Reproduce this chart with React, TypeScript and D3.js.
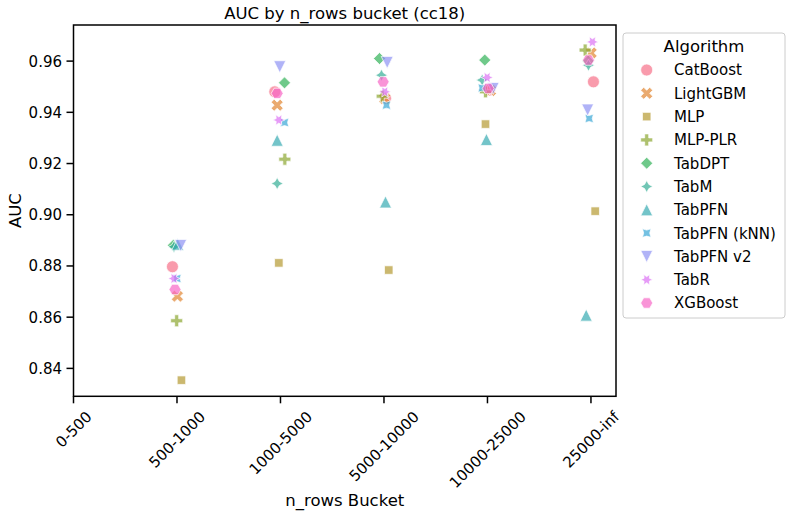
import React from 'react';
import * as d3 from 'd3';

// ---------- data ----------
const buckets = ['0-500', '500-1000', '1000-5000', '5000-10000', '10000-25000', '25000-inf'];
const algorithms = ['CatBoost', 'LightGBM', 'MLP', 'MLP-PLR', 'TabDPT', 'TabM', 'TabPFN', 'TabPFN (kNN)', 'TabPFN v2', 'TabR', 'XGBoost'];
// buckets with data (0-500 has none)
const dataBuckets = ['500-1000', '1000-5000', '5000-10000', '10000-25000', '25000-inf'];

const catboostAUC = [0.8797, 0.9480, 0.9455, 0.9487, 0.9519];
const lightgbmAUC = [0.8682, 0.9428, 0.9454, 0.9485, 0.9632];
const mlpAUC = [0.8354, 0.8812, 0.8784, 0.9354, 0.9014];
const mlpPlrAUC = [0.8586, 0.9217, 0.9463, 0.9480, 0.9643];
const tabdptAUC = [0.8881, 0.9515, 0.9610, 0.9604, 0.9600];
const tabmAUC = [0.8875, 0.9122, 0.9545, 0.9526, 0.9584];
const tabpfnAUC = [0.8885, 0.9291, 0.9050, 0.9294, 0.8608];
const tabpfnKnnAUC = [0.8751, 0.9360, 0.9428, 0.9495, 0.9376];
const tabpfnV2AUC = [0.8880, 0.9578, 0.9595, 0.9493, 0.9409];
const tabrAUC = [0.8751, 0.9370, 0.9480, 0.9536, 0.9675];
const xgboostAUC = [0.8708, 0.9474, 0.9519, 0.9493, 0.9604];

// horizontal jitter (in bucket units) as drawn in the source
const catboostJit = [-0.044, -0.055, 0.015, 0.019, 0.024];
const lightgbmJit = [0.004, -0.032, 0.008, 0.029, 0.002];
const mlpJit = [0.043, -0.016, 0.046, -0.019, 0.041];
const mlpPlrJit = [-0.003, 0.042, -0.017, -0.019, -0.056];
const tabdptJit = [-0.035, 0.039, -0.043, -0.026, -0.027];
const tabmJit = [-0.029, -0.032, -0.024, -0.051, -0.024];
const tabpfnJit = [0.007, -0.032, 0.015, -0.010, -0.046];
const tabpfnKnnJit = [0.000, 0.039, 0.024, -0.051, -0.017];
const tabpfnV2Jit = [0.036, -0.007, 0.031, 0.055, -0.032];
const tabrJit = [-0.029, -0.016, 0.008, -0.003, 0.014];
const xgboostJit = [-0.019, -0.032, -0.008, 0.007, -0.024];

const seriesValues = [catboostAUC, lightgbmAUC, mlpAUC, mlpPlrAUC, tabdptAUC, tabmAUC, tabpfnAUC, tabpfnKnnAUC, tabpfnV2AUC, tabrAUC, xgboostAUC];
const seriesJitter = [catboostJit, lightgbmJit, mlpJit, mlpPlrJit, tabdptJit, tabmJit, tabpfnJit, tabpfnKnnJit, tabpfnV2Jit, tabrJit, xgboostJit];

const yTicks = [0.84, 0.86, 0.88, 0.90, 0.92, 0.94, 0.96];

// ---------- husl palette (seaborn) ----------
const M = [[3.2406, -1.5372, -0.4986], [-0.9689, 1.8758, 0.0415], [0.0557, -0.2040, 1.0570]];
function maxChroma(L: number, H: number) {
  const hrad = (H / 360) * Math.PI * 2;
  const sinH = Math.sin(hrad), cosH = Math.cos(hrad);
  const sub1 = Math.pow(L + 16, 3) / 1560896;
  const sub2 = sub1 > 0.008856 ? sub1 : L / 903.3;
  let result = Infinity;
  for (const [m1, m2, m3] of M) {
    const top = (0.99915 * m1 + 1.05122 * m2 + 1.1446 * m3) * sub2;
    const rb = 0.8633 * m3 - 0.17266 * m2;
    const lb = 0.12949 * m3 - 0.38848 * m1;
    const bottom = (rb * sinH + lb * cosH) * sub2;
    for (const t of [0, 1]) {
      const C = (L * (top - 1.05122 * t)) / (bottom + 0.17266 * sinH * t);
      if (C > 0 && C < result) result = C;
    }
  }
  return result;
}
function huslToHex(H: number, S: number, L: number) {
  const C = (maxChroma(L, H) / 100) * S;
  const hrad = (H / 360) * Math.PI * 2;
  const U = Math.cos(hrad) * C, V = Math.sin(hrad) * C;
  const t = (L + 16) / 116;
  const varY = Math.pow(t, 3) > 0.008856 ? Math.pow(t, 3) : (116 * t - 16) / 903.3;
  const varU = U / (13 * L) + 0.19784;
  const varV = V / (13 * L) + 0.46834;
  const Y = varY;
  const X = 0 - (9 * Y * varU) / ((varU - 4) * varV - varU * varV);
  const Z = (9 * Y - 15 * varV * Y - varV * X) / (3 * varV);
  const rgb = M.map(([a, b, c]) => {
    const v = a * X + b * Y + c * Z;
    const s = v <= 0.0031308 ? 12.92 * v : 1.055 * Math.pow(v, 1 / 2.4) - 0.055;
    return Math.max(0, Math.min(1, s));
  });
  return d3.rgb(rgb[0] * 255, rgb[1] * 255, rgb[2] * 255).formatHex();
}
const palette = algorithms.map((_, i) => {
  const h = ((i / algorithms.length + 0.01) % 1) * 359;
  return huslToHex(h, 0.9 * 99, 0.65 * 99);
});

// ---------- markers (matplotlib / seaborn style) ----------
type Pt = [number, number];
function polyPath(pts: Pt[], size: number) {
  return 'M' + pts.map(([x, y]) => `${(x * size).toFixed(2)},${(-y * size).toFixed(2)}`).join('L') + 'Z';
}
function regPoly(n: number, rotDeg: number): Pt[] {
  const pts: Pt[] = [];
  for (let i = 0; i < n; i++) {
    const th = (2 * Math.PI * i) / n + Math.PI / 2 + (rotDeg * Math.PI) / 180;
    pts.push([0.5 * Math.cos(th), 0.5 * Math.sin(th)]);
  }
  return pts;
}
function regStar(n: number, rotDeg: number): Pt[] {
  const pts: Pt[] = [];
  for (let i = 0; i < 2 * n; i++) {
    const th = (2 * Math.PI * i) / (2 * n) + Math.PI / 2 + (rotDeg * Math.PI) / 180;
    const r = i % 2 === 0 ? 0.5 : 0.25;
    pts.push([r * Math.cos(th), r * Math.sin(th)]);
  }
  return pts;
}
const xFilled: Pt[] = ([[-1, -2], [0, -1], [1, -2], [2, -1], [1, 0], [2, 1], [1, 2], [0, 1], [-1, 2], [-2, 1], [-1, 0], [-2, -1]] as Pt[]).map(([a, b]) => [a / 4, b / 4]);
const plusFilled: Pt[] = ([[-1, -3], [1, -3], [1, -1], [3, -1], [3, 1], [1, 1], [1, 3], [-1, 3], [-1, 1], [-3, 1], [-3, -1], [-1, -1]] as Pt[]).map(([a, b]) => [a / 6, b / 6]);
const triUp: Pt[] = [[0, 0.5], [-0.5, -0.5], [0.5, -0.5]];
const triDown: Pt[] = [[0, -0.5], [0.5, 0.5], [-0.5, 0.5]];

function markerPath(i: number, size: number) {
  switch (i) {
    case 0: { const r = size / 2; return `M${r},0A${r},${r} 0 1,1 ${-r},0A${r},${r} 0 1,1 ${r},0Z`; }
    case 1: return polyPath(xFilled, size);
    case 2: return polyPath(regPoly(4, 45), size);
    case 3: return polyPath(plusFilled, size);
    case 4: return polyPath(regPoly(4, 0), size);
    case 5: return polyPath(regStar(4, 0), size);
    case 6: return polyPath(triUp, size);
    case 7: return polyPath(regStar(4, 45), size);
    case 8: return polyPath(triDown, size);
    case 9: return polyPath(regStar(6, 30), size);
    default: return polyPath(regPoly(6, 30), size);
  }
}

// ---------- layout ----------
const W = 792, H = 521;
const left = 73.5, right = 616, top = 25, bottom = 396.3;
const FONT = "'DejaVu Sans', sans-serif";
const tickFs = 15;
const labelFs = 16.5;
const MS = 12;
const ALPHA = 0.7;

let ctx: CanvasRenderingContext2D | null = null;
function textWidth(s: string, fs: number) {
  if (!ctx) ctx = document.createElement('canvas').getContext('2d');
  if (!ctx) return s.length * fs * 0.6;
  ctx.font = `${fs}px DejaVu Sans`;
  return ctx.measureText(s).width;
}

export default function App() {
  const x = d3.scaleLinear().domain([0, 5.242]).range([left, right]);
  const y = d3.scaleLinear().domain([0.8291, 0.9741]).range([bottom, top]);
  const bucketIndex = (b: string) => buckets.indexOf(b);

  const points: { ai: number; cx: number; cy: number }[] = [];
  seriesValues.forEach((vals, ai) => {
    vals.forEach((v, bi) => {
      const xi = bucketIndex(dataBuckets[bi]) + seriesJitter[ai][bi];
      points.push({ ai, cx: x(xi), cy: y(v) });
    });
  });

  const legendX = 623, legendY = 33, legendW = 162, legendH = 285;
  const rowH = 23.3;

  return (
    <svg width={W} height={H} style={{ position: 'absolute', left: 0, top: 0, background: '#fff' }} fontFamily={FONT}>
      <rect x={0} y={0} width={W} height={H} fill="#fff" />
      {/* title */}
      <text x={(left + right) / 2} y={19} textAnchor="middle" fontSize={labelFs} fill="#000">AUC by n_rows bucket (cc18)</text>

      {/* points */}
      <g>
        {points.map((p, k) => (
          <path key={k} d={markerPath(p.ai, MS)} transform={`translate(${p.cx},${p.cy})`}
            fill={palette[p.ai]} fillOpacity={ALPHA} stroke="#fff" strokeOpacity={ALPHA} strokeWidth={1} strokeLinejoin={p.ai === 5 || p.ai === 7 || p.ai === 9 ? 'bevel' : 'miter'} />
        ))}
      </g>

      {/* frame */}
      <rect x={left} y={top} width={right - left} height={bottom - top} fill="none" stroke="#000" strokeWidth={1.5} />

      {/* y axis */}
      {yTicks.map(t => (
        <g key={t}>
          <line x1={left - 7} x2={left} y1={y(t)} y2={y(t)} stroke="#000" strokeWidth={1.5} />
          <text x={left - 11.5} y={y(t)} dy="0.36em" textAnchor="end" fontSize={tickFs} fill="#000">{t.toFixed(2)}</text>
        </g>
      ))}
      <text transform={`translate(15,${(top + bottom) / 2}) rotate(-90)`} textAnchor="middle" dy="0.36em" fontSize={labelFs} fill="#000">AUC</text>

      {/* x axis */}
      {buckets.map((b, i) => {
        const tx = x(i);
        const w = textWidth(b, tickFs);
        const h = tickFs * 0.95;
        const bb = (w + h) * Math.SQRT1_2;
        const cy = bottom + 12.5 + bb / 2;
        return (
          <g key={b}>
            <line x1={tx} x2={tx} y1={bottom} y2={bottom + 7} stroke="#000" strokeWidth={1.5} />
            <text transform={`translate(${tx},${cy}) rotate(-45)`} textAnchor="middle" dy="0.36em" fontSize={tickFs} fill="#000">{b}</text>
          </g>
        );
      })}
      <text x={(left + right) / 2} y={506} textAnchor="middle" fontSize={labelFs} fill="#000">n_rows Bucket</text>

      {/* legend */}
      <rect x={legendX} y={legendY} width={legendW} height={legendH} rx={3} ry={3} fill="#fff" fillOpacity={0.8} stroke="#ccc" strokeWidth={1} />
      <text x={legendX + legendW / 2} y={46} dy="0.36em" textAnchor="middle" fontSize={labelFs} fill="#000">Algorithm</text>
      {algorithms.map((a, i) => {
        const cy = 70 + i * rowH;
        return (
          <g key={a}>
            <path d={markerPath(i, MS)} transform={`translate(646.7,${cy})`} fill={palette[i]} fillOpacity={ALPHA} stroke="#fff" strokeOpacity={ALPHA} strokeWidth={1} />
            <text x={674} y={cy} dy="0.36em" fontSize={tickFs} fill="#000">{a}</text>
          </g>
        );
      })}
    </svg>
  );
}
